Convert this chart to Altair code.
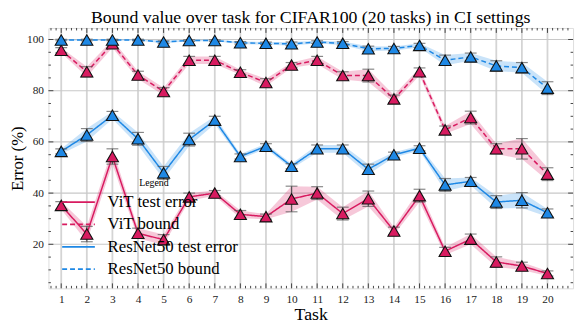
import altair as alt
import pandas as pd

tasks = list(range(1, 21))

vit_test = [35.2, 24.0, 54.3, 24.3, 21.8, 38.5, 40.0, 31.7, 30.8, 37.7,
            40.0, 32.0, 37.8, 25.2, 39.0, 17.3, 22.0, 13.1, 11.5, 8.6]
vit_test_std = [1.5, 3.0, 3.0, 2.0, 2.0, 1.5, 1.0, 1.5, 1.0, 5.0,
                2.5, 2.5, 3.0, 1.5, 2.5, 1.5, 2.0, 2.0, 1.5, 1.0]
vit_bound = [95.8, 87.4, 98.3, 86.1, 79.7, 91.9, 91.9, 87.2, 83.2, 90.0,
             91.9, 85.9, 85.9, 76.8, 87.4, 64.7, 69.5, 57.3, 57.3, 47.4]
vit_bound_std = [1.0, 2.0, 1.5, 1.5, 1.5, 1.5, 1.5, 1.0, 1.5, 1.0,
                 1.5, 1.5, 2.5, 1.5, 1.5, 1.5, 2.5, 2.0, 4.0, 2.5]
res_test = [56.3, 62.7, 70.4, 61.2, 47.9, 60.9, 68.5, 54.3, 58.3, 50.5,
            57.3, 57.3, 49.3, 55.0, 57.5, 43.2, 44.6, 36.5, 37.2, 32.3]
res_test_std = [1.0, 2.5, 1.5, 2.5, 2.5, 2.5, 1.5, 1.0, 1.0, 1.0,
                1.5, 1.5, 2.0, 1.0, 1.0, 2.5, 1.5, 2.5, 3.0, 1.5]
res_bound = [99.8, 99.8, 99.8, 99.8, 99.0, 99.6, 99.6, 98.7, 98.5, 98.3,
             99.0, 98.5, 96.4, 96.5, 97.7, 91.9, 93.2, 89.7, 89.0, 81.0]
res_bound_std = [0.3, 0.3, 0.3, 0.3, 0.5, 0.3, 0.3, 0.5, 0.5, 0.7,
                 0.5, 0.7, 1.0, 0.8, 0.8, 2.0, 1.5, 2.0, 2.0, 2.5]

series_names = ["ViT test error", "ViT bound", "ResNet50 test error", "ResNet50 bound"]
series_colors = ["#D81B60", "#D81B60", "#1E88E5", "#1E88E5"]
series_dash = [[1, 0], [5, 3], [1, 0], [5, 3]]

y_major = [20, 40, 60, 80, 100]
y_minor = [v for v in range(5, 105, 5) if v not in y_major]
x_minor = [round(0.6 + 0.2 * i, 1) for i in range(102)
           if abs(round(0.6 + 0.2 * i, 1) - round(0.6 + 0.2 * i)) > 1e-6]

rows = []
for name, vals, stds in zip(series_names,
                            [vit_test, vit_bound, res_test, res_bound],
                            [vit_test_std, vit_bound_std, res_test_std, res_bound_std]):
    for t, v, s in zip(tasks, vals, stds):
        rows.append({"task": t, "series": name, "value": v, "lo": v - s, "hi": v + s})
df = pd.DataFrame(rows)

W, H = 532, 264
XDOM = [0.5, 21.0]
YDOM = [2.8, 104.5]
FONT = "Liberation Serif"

xs = alt.Scale(domain=XDOM, nice=False, zero=False)
ys = alt.Scale(domain=YDOM, nice=False, zero=False)
cscale = alt.Scale(domain=series_names, range=series_colors)
dscale = alt.Scale(domain=series_names, range=series_dash)

xaxis = alt.Axis(values=tasks, title="Task", ticks=False, grid=False, domain=False,
                 labelFontSize=11.5, labelPadding=5, titleFontSize=18, titlePadding=1,
                 labelOverlap=False, labelFont=FONT, titleFont=FONT,
                 titleFontWeight="normal", labelColor="#222", titleColor="#000")
yaxis = alt.Axis(values=y_major, title="Error (%)", ticks=False, grid=False, domain=False,
                 labelFontSize=11.5, labelPadding=5, titleFontSize=17, titlePadding=0.5,
                 labelOverlap=False, labelFont=FONT, titleFont=FONT,
                 titleFontWeight="normal", labelColor="#222", titleColor="#000")

leg = alt.Legend(title="Legend", orient="none", legendX=21, legendY=152,
                 symbolType="M-1.95,0H1.95", symbolSize=289, symbolStrokeWidth=1.8,
                 symbolOpacity=1, symbolFillColor="transparent",
                 labelFontSize=17, labelFont=FONT, titleFont=FONT,
                 titleFontSize=10, titleFontWeight="normal",
                 titleAnchor="middle", titleAlign="center", titlePadding=5,
                 rowPadding=4.7, labelOffset=20, padding=0,
                 labelColor="#000", titleColor="#000")


def X(f):
    return alt.X(f, scale=xs, axis=xaxis)


def Y(f):
    return alt.Y(f, scale=ys, axis=yaxis)


base = alt.Chart(df)

gx = alt.Chart(pd.DataFrame({"t": tasks})).mark_rule(color="#d4d4d4", strokeWidth=1.8).encode(
    x=X("t:Q"))
gy = alt.Chart(pd.DataFrame({"v": y_major})).mark_rule(color="#c8c8c8", strokeWidth=1.1).encode(
    y=Y("v:Q"))

band = base.mark_area(opacity=0.24).encode(
    x=X("task:Q"),
    y=Y("lo:Q"),
    y2="hi:Q",
    color=alt.Color("series:N", scale=cscale, sort=series_names, legend=leg),
    detail="series:N",
)

lines = base.mark_line(strokeWidth=1.5).encode(
    x=X("task:Q"),
    y=Y("value:Q"),
    color=alt.Color("series:N", scale=cscale, sort=series_names, legend=leg),
    strokeDash=alt.StrokeDash("series:N", scale=dscale, sort=series_names, legend=leg),
)

ebar = base.mark_rule(color="#555", strokeWidth=1.2).encode(
    x=X("task:Q"),
    y=Y("lo:Q"),
    y2="hi:Q",
)
cap_lo = base.mark_tick(color="#555", thickness=1.2, size=12, orient="horizontal").encode(
    x=X("task:Q"), y=Y("lo:Q"))
cap_hi = base.mark_tick(color="#555", thickness=1.2, size=12, orient="horizontal").encode(
    x=X("task:Q"), y=Y("hi:Q"))

pts = base.mark_point(shape="triangle-up", filled=True, size=150, stroke="#111",
                      strokeWidth=1.1, opacity=1).encode(
    x=X("task:Q"),
    y=Y("value:Q"),
    fill=alt.Fill("series:N", scale=cscale, sort=series_names, legend=None),
)

tick_col = "#444"
xmaj = pd.DataFrame({"t": tasks})
xmin = pd.DataFrame({"t": x_minor})
ymaj = pd.DataFrame({"v": y_major})
ymin = pd.DataFrame({"v": y_minor})


def xticks(d, L):
    b = alt.Chart(d).mark_rule(color=tick_col, strokeWidth=1).encode(
        x=X("t:Q"), y=alt.value(H), y2=alt.value(H - L))
    t = alt.Chart(d).mark_rule(color=tick_col, strokeWidth=1).encode(
        x=X("t:Q"), y=alt.value(0), y2=alt.value(L))
    return b + t


def yticks(d, L):
    l = alt.Chart(d).mark_rule(color=tick_col, strokeWidth=1).encode(
        y=Y("v:Q"), x=alt.value(0), x2=alt.value(L))
    r = alt.Chart(d).mark_rule(color=tick_col, strokeWidth=1).encode(
        y=Y("v:Q"), x=alt.value(W), x2=alt.value(W - L))
    return l + r


ticks = xticks(xmaj, 5) + xticks(xmin, 2.5) + yticks(ymaj, 5) + yticks(ymin, 2.5)

chart = alt.layer(gx, gy, band, lines, ebar, cap_lo, cap_hi, pts, ticks).properties(
    width=W, height=H,
    title=alt.Title("Bound value over task for CIFAR100 (20 tasks) in CI settings",
                    font=FONT, fontSize=18, fontWeight="normal", color="#000", offset=0),
    autosize=alt.AutoSizeParams(type="none"),
    padding={"left": 41, "top": 18, "right": 5, "bottom": 40},
).configure_view(stroke="#444", strokeWidth=1.2).configure(background="white")

chart.save("out.html", embed_options={"renderer": "svg", "actions": False})
